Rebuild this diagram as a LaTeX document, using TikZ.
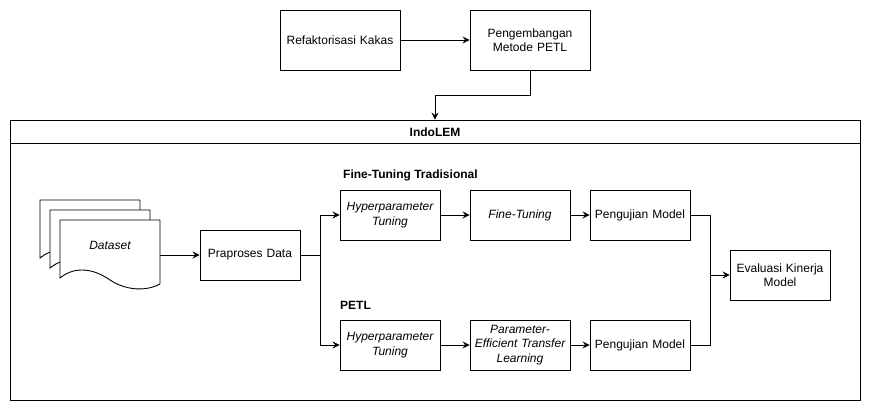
\documentclass[tikz,border=0pt]{standalone}
\usepackage{fontspec}
\setmainfont{Liberation Sans}
\usetikzlibrary{arrows.meta}
\begin{document}
\begin{tikzpicture}[x=1pt,y=-1pt,
  every node/.style={font=\fontsize{12}{14.5}\selectfont},
  line/.style={draw=black,line width=0.9pt},
  arr/.style={line,-{Stealth[length=7pt,width=7pt,inset=2.5pt]}},
  box/.style={draw=black,line width=0.9pt,fill=white,rectangle,inner sep=0pt,
    minimum width=100pt,minimum height=50pt,text width=96pt,align=center},
  wbox/.style={box,minimum width=120pt,minimum height=60pt,text width=112pt},
  lbl/.style={font=\fontsize{12}{14.5}\selectfont\bfseries,inner sep=0pt}]
\useasboundingbox (0,0) rectangle (871,411);
\fill[white] (0,0) rectangle (871,411);

% top boxes
\node[wbox] (ref) at (340,40) {Refaktorisasi Kakas};
\node[wbox] (peng) at (530,40) {Pengembangan\\Metode PETL};
\draw[arr] (ref.east) -- (peng.west);

% container
\node[draw=black,line width=0.9pt,rectangle,inner sep=0pt,minimum width=850pt,minimum height=280pt] (indolem) at (435,260) {};
\coordinate (hl) at (10,143);
\coordinate (hr) at (860,143);
\draw[line] (hl) -- (hr);
\node[lbl] (indotitle) at (435,132) {IndoLEM};
\coordinate (bend) at (435,95);
\draw[arr] (peng.south) |- (bend) -- (indolem.north);

% dataset multi-document
\begin{scope}[line width=0.9pt]
\foreach \d in {20,10,0}{
  \filldraw[draw=black,fill=white,shift={(-\d,-\d)}]
    (60,220) -- (160,220) -- (160,284)
    .. controls (145,292) and (125,290) .. (110,280)
    .. controls (90,266) and (72,268) .. (60,278) -- cycle;
}
\end{scope}
\node[font=\fontsize{12}{14.5}\selectfont\itshape] (dataset) at (110,245) {Dataset};
\coordinate (dsout) at (160,255);

\node[box] (prap) at (250,255) {Praproses Data};
\draw[arr] (dsout) -- (prap.west);

% group labels
\node[lbl,anchor=west] (ftlabel) at (343,175) {Fine-Tuning Tradisional};
\node[lbl,anchor=west] (petllabel) at (340,305) {PETL};

% rows
\node[box,font=\fontsize{12}{14.5}\selectfont\itshape] (hp1) at (390,215) {Hyperparameter\\Tuning};
\node[box,font=\fontsize{12}{14.5}\selectfont\itshape] (ft) at (520,215) {Fine-Tuning};
\node[box] (pm1) at (640,215) {Pengujian Model};
\node[box,font=\fontsize{12}{14.5}\selectfont\itshape] (hp2) at (390,345) {Hyperparameter\\Tuning};
\node[box,font=\fontsize{12}{14.5}\selectfont\itshape] (petl) at (520,345) {Parameter-\\Efficient Transfer\\Learning};
\node[box] (pm2) at (640,345) {Pengujian Model};
\node[box] (eval) at (780,275) {Evaluasi Kinerja\\Model};

\coordinate (split) at (320,255);
\draw[line] (prap.east) -- (split);
\draw[arr] (split) |- (hp1.west);
\draw[arr] (split) |- (hp2.west);
\draw[arr] (hp1.east) -- (ft.west);
\draw[arr] (ft.east) -- (pm1.west);
\draw[arr] (hp2.east) -- (petl.west);
\draw[arr] (petl.east) -- (pm2.west);

\coordinate (merge) at (710,275);
\draw[line] (pm1.east) -| (merge);
\draw[line] (pm2.east) -| (merge);
\draw[arr] (merge) -- (eval.west);
\end{tikzpicture}
\end{document}
